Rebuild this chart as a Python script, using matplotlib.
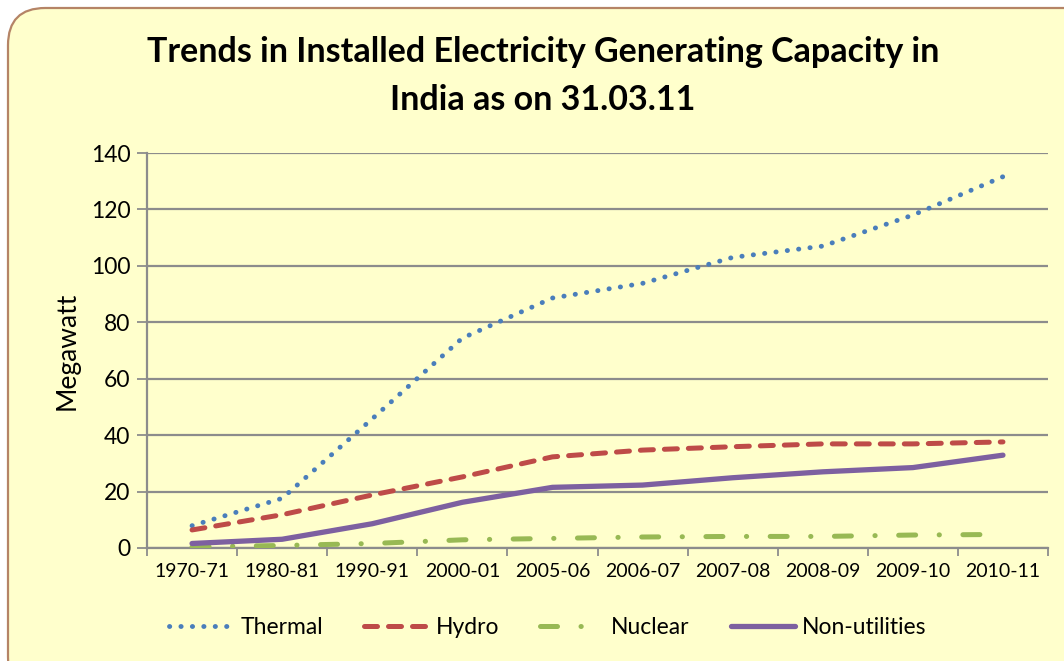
import matplotlib
matplotlib.use('Agg')
import matplotlib.pyplot as plt
from matplotlib.patches import FancyBboxPatch
import numpy as np

# data
years = ['1970-71', '1980-81', '1990-91', '2000-01', '2005-06',
         '2006-07', '2007-08', '2008-09', '2009-10', '2010-11']
thermal = [7.9, 17.6, 45.8, 74.4, 88.6, 93.8, 103.0, 107.0, 118.0, 131.6]
hydro = [6.4, 11.8, 18.8, 25.2, 32.3, 34.7, 35.9, 36.9, 36.9, 37.6]
nuclear = [0.4, 0.9, 1.6, 2.9, 3.4, 3.9, 4.1, 4.1, 4.6, 4.8]
non_utilities = [1.6, 3.1, 8.6, 16.2, 21.5, 22.3, 24.9, 27.0, 28.5, 32.9]
yticks = [0, 20, 40, 60, 80, 100, 120, 140]

bg = '#FFFFCC'
grid_col = '#8C8C8C'
plt.rcParams['font.family'] = ['Lato', 'DejaVu Sans']

fig = plt.figure(figsize=(10.64, 6.61), dpi=100)
fig.patch.set_facecolor('white')

# rounded chart-area frame
W, H = 1064.0, 661.0
frame = FancyBboxPatch((8 / W, -0.05), 1.1, 1.05 - 8 / H,
                       boxstyle='round,pad=0,rounding_size=0.035',
                       transform=fig.transFigure, facecolor=bg,
                       edgecolor='#B58466', linewidth=1.6, zorder=0,
                       mutation_aspect=W / H)
fig.patches.append(frame)

ax = fig.add_axes([147 / W, 1 - 548 / H, (1048 - 147) / W, (548 - 153) / H])
ax.set_zorder(2)
ax.patch.set_alpha(0)

x = np.arange(len(years)) + 0.5
ax.plot(x, thermal, color='#4A7EBB', lw=3.5, linestyle=(0, (0.05, 2.3)),
        dash_capstyle='round', label='Thermal', zorder=4)
ax.plot(x, hydro, color='#BE4B48', lw=3.6, linestyle=(0, (2.6, 2.2)),
        dash_capstyle='round', label='Hydro', zorder=4)
ax.plot(x, nuclear, color='#98B954', lw=3.6,
        linestyle=(0, (3.4, 4.7, 0.05, 4.7)), dash_capstyle='round',
        label='Nuclear', zorder=4)
ax.plot(x, non_utilities, color='#7D60A0', lw=3.8, label='Non-utilities',
        solid_capstyle='round', zorder=4)

ax.set_xlim(0, len(years))
ax.set_ylim(0, 140)
ax.set_yticks(yticks)
ax.set_yticklabels([str(v) for v in yticks], fontsize=16.5)
ax.yaxis.grid(True, color=grid_col, lw=1.6)
ax.set_axisbelow(True)

ax.set_xticks(np.arange(len(years) + 1))
ax.set_xticklabels([])
ax.set_xticks(x, minor=True)
ax.set_xticklabels(years, minor=True, fontsize=14)
ax.tick_params(axis='x', which='major', length=6, color=grid_col, width=1.3)
ax.tick_params(axis='x', which='minor', length=0, pad=11)
ax.tick_params(axis='y', length=7, color=grid_col, width=1.3, pad=5)

for s in ['top', 'right']:
    ax.spines[s].set_visible(False)
for s in ['left', 'bottom']:
    ax.spines[s].set_color(grid_col)
    ax.spines[s].set_linewidth(1.6)

ax.set_ylabel('Megawatt', fontsize=19, labelpad=8)

fig.text(543 / W, 1 - 52 / H,
         'Trends in Installed Electricity Generating Capacity in',
         ha='center', va='center', fontsize=24.5, fontweight='bold')
fig.text(543 / W, 1 - 100 / H, 'India as on 31.03.11',
         ha='center', va='center', fontsize=24.5, fontweight='bold')

leg = fig.legend(loc='center', bbox_to_anchor=(548 / W, 1 - 628 / H), ncol=4,
                 frameon=False, fontsize=16.5, handlelength=2.8,
                 columnspacing=1.8, handletextpad=0.3)

fig.savefig('out.png', dpi=100, facecolor=fig.get_facecolor())
